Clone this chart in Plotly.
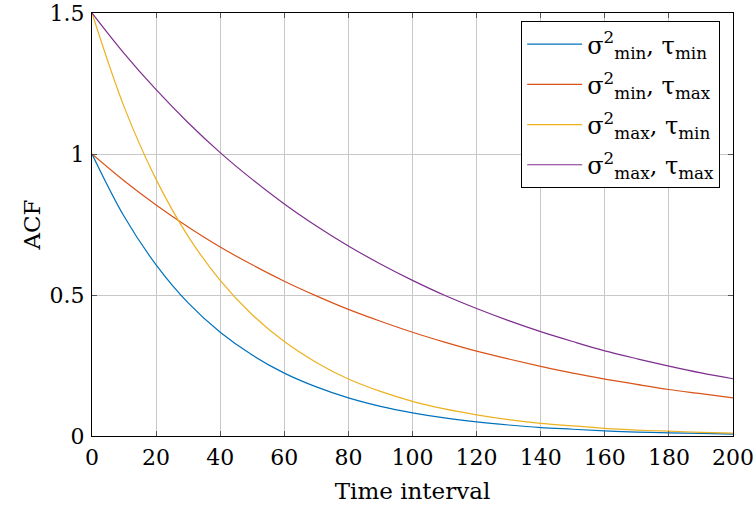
import plotly.graph_objects as go

x = [0, 10, 20, 30, 40, 50, 60, 70, 80, 90, 100, 110, 120, 130, 140, 150, 160, 170, 180, 190, 200]
s_min_t_min = [1.0, 0.779, 0.607, 0.472, 0.368, 0.287, 0.223, 0.174, 0.135, 0.105, 0.082, 0.064, 0.050, 0.039, 0.030, 0.024, 0.018, 0.014, 0.011, 0.009, 0.007]
s_min_t_max = [1.0, 0.905, 0.819, 0.741, 0.670, 0.607, 0.549, 0.497, 0.449, 0.407, 0.368, 0.333, 0.301, 0.273, 0.247, 0.223, 0.202, 0.183, 0.165, 0.150, 0.135]
s_max_t_min = [1.5, 1.168, 0.910, 0.708, 0.552, 0.430, 0.335, 0.261, 0.202, 0.158, 0.123, 0.096, 0.075, 0.058, 0.045, 0.036, 0.027, 0.021, 0.017, 0.013, 0.010]
s_max_t_max = [1.5, 1.357, 1.228, 1.111, 1.005, 0.910, 0.823, 0.745, 0.674, 0.610, 0.552, 0.499, 0.452, 0.409, 0.370, 0.335, 0.302, 0.274, 0.248, 0.224, 0.203]

names = ["σ<sup>2</sup><sub>min</sub>, τ<sub>min</sub>",
         "σ<sup>2</sup><sub>min</sub>, τ<sub>max</sub>",
         "σ<sup>2</sup><sub>max</sub>, τ<sub>min</sub>",
         "σ<sup>2</sup><sub>max</sub>, τ<sub>max</sub>"]
series = [s_min_t_min, s_min_t_max, s_max_t_min, s_max_t_max]
colors = ["#0072BD", "#D95319", "#EDB120", "#7E2F8E"]

fig = go.Figure()
for i, (n, s, c) in enumerate(zip(names, series, colors)):
    fig.add_trace(go.Scatter(x=x, y=s, mode="lines", name=n, legendgroup=f"g{i}",
                             line=dict(color=c, width=1.2, shape="spline")))

font = "DejaVu Serif"
axis_common = dict(showline=True, linecolor="black", linewidth=1, mirror="ticks",
                   ticks="inside", ticklen=5, tickcolor="#555555",
                   showgrid=True, gridcolor="#c8c8c8", gridwidth=1, zeroline=False,
                   automargin=False, ticklabeloverflow="allow",
                   tickfont=dict(family=font, size=22, color="black"))
fig.update_layout(
    width=755, height=511,
    margin=dict(l=92, r=22, t=13, b=75),
    paper_bgcolor="white", plot_bgcolor="white",
    font=dict(family=font, color="black"),
    xaxis=dict(range=[0, 200], tickvals=list(range(0, 201, 20)),
               title=dict(text="Time interval", font=dict(family=font, size=23), standoff=13),
               ticklabelstandoff=2, **axis_common),
    yaxis=dict(range=[0, 1.5], tickvals=[0, 0.5, 1, 1.5], ticktext=["0", "0.5", "1", "1.5"],
               title=dict(text="ACF", font=dict(family=font, size=23), standoff=2),
               ticklabelstandoff=2, **axis_common),
    legend=dict(x=0.98, y=0.981, xanchor="right", yanchor="top",
                bordercolor="black", borderwidth=1, bgcolor="white",
                font=dict(family=font, size=24), itemwidth=55, tracegroupgap=6),
)
fig.write_html("out.html", config={"displayModeBar": False},
               post_script="document.body.style.margin='0';")
